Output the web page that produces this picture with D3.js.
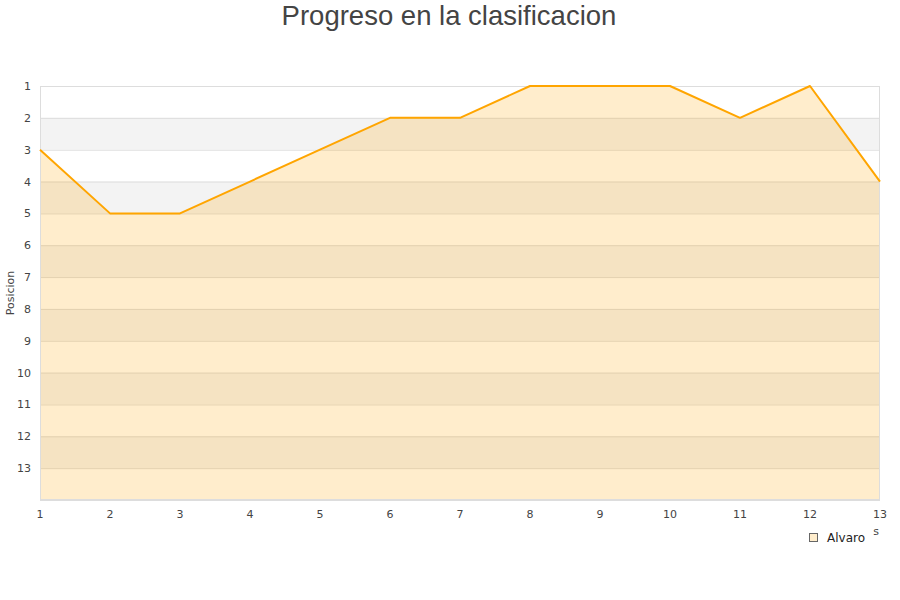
<!DOCTYPE html>
<html><head><meta charset="utf-8">
<script src="https://cdn.jsdelivr.net/npm/d3@7"></script>
<style>body{margin:0;background:#fff}svg{display:block}</style>
</head><body>
<svg id="c" width="900" height="600"></svg>
<script>
const jornadas = [1,2,3,4,5,6,7,8,9,10,11,12,13];
const posiciones = [3,5,5,4,3,2,2,1,1,1,2,1,4];
const yTicks = [1,2,3,4,5,6,7,8,9,10,11,12,13];
const serieNombre = "Alvaro";
const titulo = "Progreso en la clasificacion";

const svg = d3.select("#c");
const L=40,R=880,T=86,B=500;
const x = d3.scaleLinear().domain([1,13]).range([L,R]);
const y = d3.scaleLinear().domain([1,14]).range([T,B]);

// alternating bands
const bands = d3.range(1,14);
svg.append("g").selectAll("rect").data(bands).join("rect")
  .attr("x",L).attr("width",R-L)
  .attr("y",d=>y(d)).attr("height",d=>y(d+1)-y(d))
  .attr("fill",d=>d%2===0?"#f3f3f3":"#ffffff");
// gridlines
svg.append("g").selectAll("line").data(d3.range(1,15)).join("line")
  .attr("x1",L).attr("x2",R).attr("y1",d=>y(d)+0.5).attr("y2",d=>y(d)+0.5)
  .attr("stroke","#dddddd").attr("stroke-width",1);

// area
const area = d3.area().x((d,i)=>x(jornadas[i])).y0(y(14)).y1(d=>y(d));
svg.append("path").datum(posiciones).attr("d",area)
  .attr("fill","rgba(255,165,0,0.2)");
// border
svg.append("rect").attr("x",L+0.5).attr("y",T+0.5).attr("width",R-L-1).attr("height",B-T-1)
  .attr("fill","none").attr("stroke","#dddddd");
// line
const line = d3.line().x((d,i)=>x(jornadas[i])).y(d=>y(d));
svg.append("path").datum(posiciones).attr("d",line)
  .attr("fill","none").attr("stroke","#ffa500").attr("stroke-width",2).attr("stroke-linejoin","round");

// y ticks
svg.append("g").selectAll("text").data(yTicks).join("text")
  .attr("x",31).attr("y",d=>y(d)+4).attr("text-anchor","end")
  .attr("font-family","DejaVu Sans").attr("font-size",11).attr("fill","#444")
  .text(d=>d);
// x ticks
svg.append("g").selectAll("text").data(jornadas).join("text")
  .attr("x",d=>x(d)).attr("y",518).attr("text-anchor","middle")
  .attr("font-family","DejaVu Sans").attr("font-size",11).attr("fill","#444")
  .text(d=>d);

// axis titles
svg.append("text").attr("transform","translate(14,293) rotate(-90)")
  .attr("text-anchor","middle").attr("font-family","DejaVu Sans").attr("font-size",11).attr("fill","#444")
  .text("Posicion");
svg.append("text").attr("x",879).attr("y",535).attr("text-anchor","end")
  .attr("font-family","DejaVu Sans").attr("font-size",11).attr("fill","#444")
  .text("Jornadas");

// legend
const lg = svg.append("g");
lg.append("rect").attr("x",800).attr("y",527).attr("width",73).attr("height",20).attr("fill","#fff");
lg.append("rect").attr("x",809.5).attr("y",533.5).attr("width",8).attr("height",8)
  .attr("fill","#ffedcc").attr("stroke","#666").attr("stroke-width",1);
lg.append("text").attr("x",827).attr("y",541.5).attr("font-family","DejaVu Sans").attr("font-size",12).attr("fill","#222")
  .text(serieNombre);

// title
svg.append("text").attr("x",449).attr("y",25).attr("text-anchor","middle")
  .attr("font-family","Liberation Sans, Arial").attr("font-size",27.5).attr("fill","#444")
  .text(titulo);
</script>
</body></html>
